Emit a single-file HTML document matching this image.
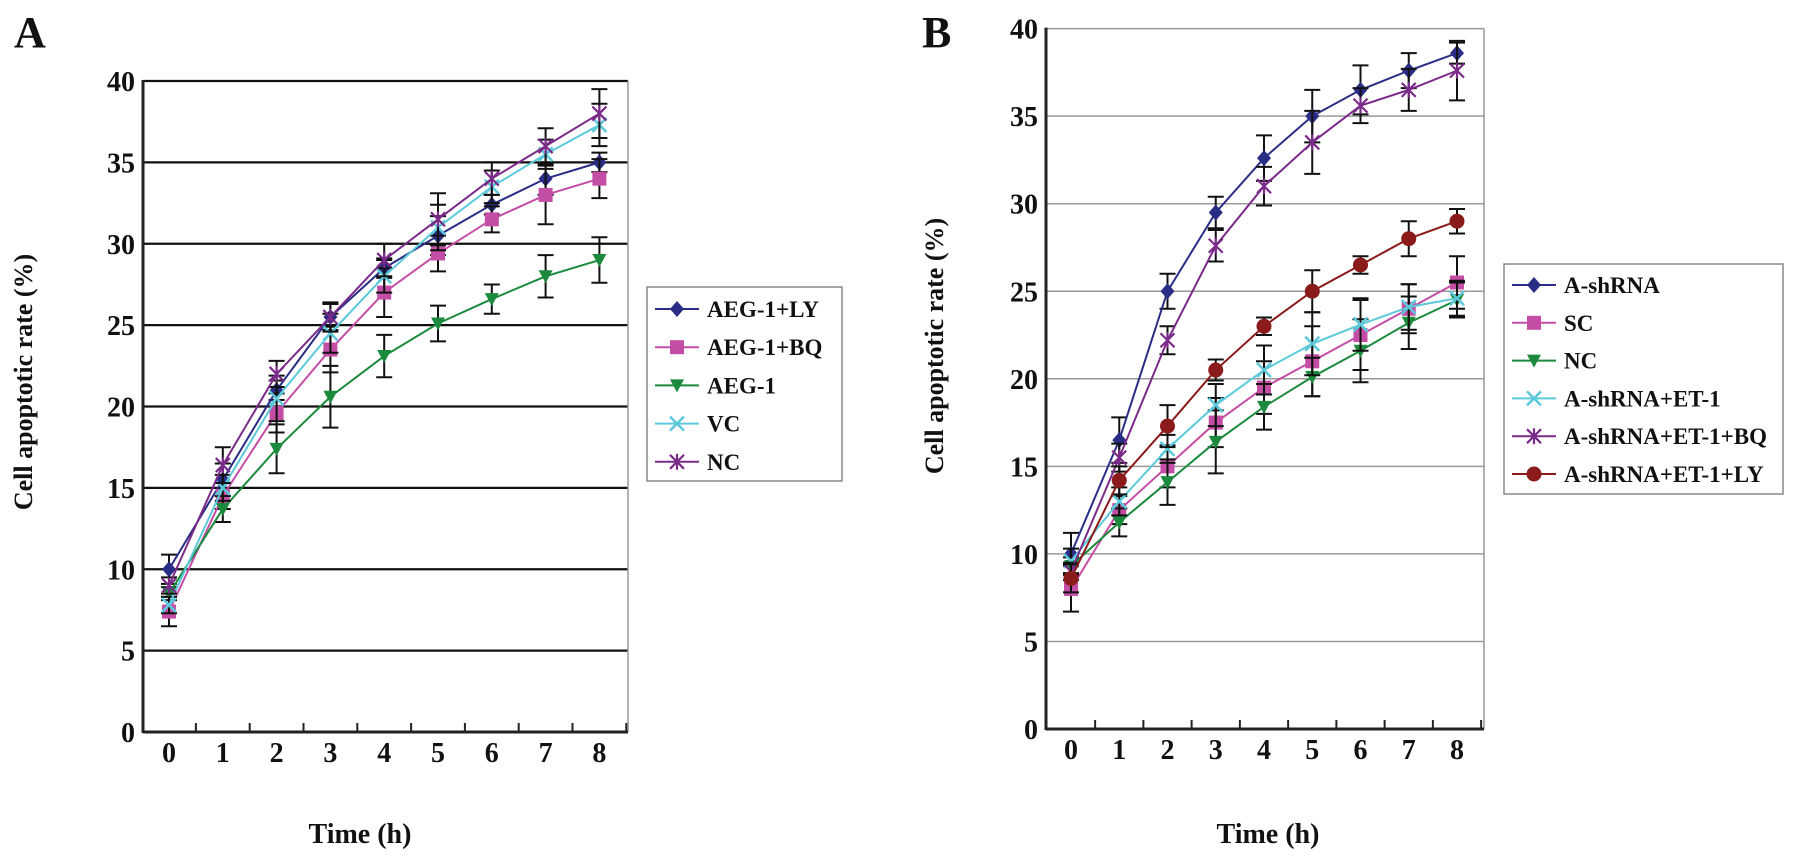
<!DOCTYPE html>
<html><head><meta charset="utf-8"><style>
html,body{margin:0;padding:0;background:#fff;}
svg text{font-family:"Liberation Serif",serif;font-weight:bold;fill:#111;}
</style></head><body>
<svg id="fig" width="1795" height="862" viewBox="0 0 1795 862" xmlns="http://www.w3.org/2000/svg"></svg>
<script>
const xCats = [0,1,2,3,4,5,6,7,8];
const yTicks = [0,5,10,15,20,25,30,35,40];
// Panel A
const aNames = ["AEG-1+LY","AEG-1+BQ","AEG-1","VC","NC"];
const aLY = [10,15.5,21,25.5,28.5,30.5,32.4,34,35];
const aBQ = [7.4,14.5,19.6,23.5,27,29.4,31.5,33,34];
const aAEG = [8.5,13.7,17.4,20.6,23.1,25.1,26.6,28,29];
const aVC = [7.8,15,20.5,24.5,28,31,33.5,35.5,37.3];
const aNC = [9,16.4,22,25.5,29,31.5,34,36,38];
const aLYerr = [0.9,1,0.6,0.8,0.6,1.2,0.6,1,0.6];
const aBQerr = [0.9,0.8,1.2,1.4,1.5,1.1,0.8,1.8,1.2];
const aAEGerr = [0.4,0.8,1.5,1.9,1.3,1.1,0.9,1.3,1.4];
const aVCerr = [0.5,0.8,1.4,1.2,1,1.4,1,0.9,1.3];
const aNCerr = [0.5,1.1,0.8,0.9,1,1.6,1,1.1,1.5];
// Panel B
const bNames = ["A-shRNA","SC","NC","A-shRNA+ET-1","A-shRNA+ET-1+BQ","A-shRNA+ET-1+LY"];
const bSh = [10,16.5,25,29.5,32.6,35,36.5,37.6,38.6];
const bSC = [8,12.5,15,17.5,19.5,21,22.5,24,25.5];
const bNC = [9.3,11.8,14.1,16.4,18.4,20.1,21.6,23.2,24.5];
const bET = [9.6,13,16,18.5,20.5,22,23.1,24.1,24.6];
const bBQ = [9,15.5,22.2,27.6,31,33.5,35.6,36.5,37.6];
const bLY = [8.6,14.2,17.3,20.5,23,25,26.5,28,29];
const bShErr = [1.2,1.3,1,0.9,1.3,1.5,1.4,1,0.6];
const bSCErr = [1.3,0.8,1.2,1.4,1.5,2,2,1.4,1.5];
const bNCErr = [0.5,0.8,1.3,1.8,1.3,1.1,1.8,1.5,1];
const bETErr = [0.7,0.8,0.8,1.2,1.4,1.8,1.5,1.3,1];
const bBQErr = [0.5,0.8,0.8,0.9,1.1,1.8,1,1.2,1.7];
const bLYErr = [0.8,0.8,1.2,0.6,0.5,1.2,0.5,1,0.7];

const NS="http://www.w3.org/2000/svg";
const svg=document.getElementById('fig');
function mk(tag,attrs,parent){const e=document.createElementNS(NS,tag);for(const k in attrs)e.setAttribute(k,attrs[k]);(parent||svg).appendChild(e);return e;}

function marker(g,type,x,y,c){
  let e;
  if(type==='diamond'){e=mk('polygon',{points:`${x},${y-8} ${x+7},${y} ${x},${y+8} ${x-7},${y}`,fill:c},g);}
  else if(type==='square'){e=mk('rect',{x:x-7,y:y-7,width:14,height:14,fill:c},g);}
  else if(type==='tri'){e=mk('polygon',{points:`${x-7},${y-6} ${x+7},${y-6} ${x},${y+7}`,fill:c},g);}
  else if(type==='x'){e=mk('path',{d:`M${x-7},${y-7}L${x+7},${y+7}M${x+7},${y-7}L${x-7},${y+7}`,stroke:c,'stroke-width':2.5},g);}
  else if(type==='star'){e=mk('path',{d:`M${x-7},${y-7}L${x+7},${y+7}M${x+7},${y-7}L${x-7},${y+7}M${x},${y-8}L${x},${y+8}`,stroke:c,'stroke-width':2.2},g);}
  else if(type==='circle'){e=mk('circle',{cx:x,cy:y,r:7.5,fill:c},g);}
  
  
  return e;
}

function panel(cfg){
  const P=mk('g',{});
  
  
  const xs=i=>cfg.x0+cfg.dx*i;
  const ys=v=>cfg.y0-(cfg.y0-cfg.y40)*v/40;
  // grid
  yTicks.forEach(t=>{
    if(t>0){const l=mk('line',{x1:cfg.left,x2:cfg.right,y1:ys(t),y2:ys(t),stroke:cfg.gridColor,'stroke-width':cfg.gridW},P);
      }
    const tx=mk('text',{x:cfg.left-8,y:ys(t)+10,'text-anchor':'end','font-size':28},P);
    tx.textContent=t;
    
  });
  const rb=mk('line',{x1:cfg.right,x2:cfg.right,y1:ys(40),y2:ys(0),stroke:'#999','stroke-width':1.5},P);
  
  const ya=mk('line',{x1:cfg.left,x2:cfg.left,y1:ys(40)-1,y2:ys(0)+1,stroke:'#222','stroke-width':3},P);
  
  const xa=mk('line',{x1:cfg.left,x2:cfg.right,y1:ys(0),y2:ys(0),stroke:'#222','stroke-width':3},P);
  
  xCats.forEach((c,i)=>{
    const tk=mk('line',{x1:xs(i)+cfg.dx/2,x2:xs(i)+cfg.dx/2,y1:ys(0),y2:ys(0)-9,stroke:'#222','stroke-width':2},P);
    
    const t=mk('text',{x:xs(i),y:ys(0)+30,'text-anchor':'middle','font-size':28},P);
    t.textContent=c;
  });
  cfg.series.forEach((s,si)=>{
    const g=mk('g',{},P);
    
    
    s.vals.forEach((v,i)=>{
      const e=s.err[i];
      const eb=mk('path',{d:`M${xs(i)},${ys(v+e)}L${xs(i)},${ys(v-e)}M${xs(i)-8},${ys(v+e)}L${xs(i)+8},${ys(v+e)}M${xs(i)-8},${ys(v-e)}L${xs(i)+8},${ys(v-e)}`,stroke:'#111','stroke-width':2,fill:'none'},g);
      
    });
    const ln=mk('polyline',{points:s.vals.map((v,i)=>xs(i)+','+ys(v)).join(' '),fill:'none',stroke:s.color,'stroke-width':2},g);
    
    s.vals.forEach((v,i)=>marker(g,s.m,xs(i),ys(v),s.color));
  });
  // titles
  const yt=mk('text',{x:0,y:0,'text-anchor':'middle','font-size':26,transform:`translate(${cfg.ytx},${cfg.yty}) rotate(-90)`},P);
  yt.textContent='Cell apoptotic rate (%)';
  const xt=mk('text',{x:cfg.xtx,y:843,'text-anchor':'middle','font-size':28},P);
  xt.textContent='Time (h)';
  const pl=mk('text',{x:cfg.lx,y:47,'font-size':44},P);
  pl.textContent=cfg.label;
  // legend
  const L=mk('g',{},P);
  
  mk('rect',{x:cfg.leg.x,y:cfg.leg.y,width:cfg.leg.w,height:cfg.leg.h,fill:'#fff',stroke:'#888','stroke-width':1.5},L);
  cfg.series.forEach((s,i)=>{
    const y=cfg.leg.ey0+cfg.leg.dy*i;
    const en=mk('g',{},L);
    
    mk('line',{x1:cfg.leg.lx,x2:cfg.leg.lx+44,y1:y,y2:y,stroke:s.color,'stroke-width':2},en);
    marker(en,s.m,cfg.leg.lx+22,y,s.color);
    const t=mk('text',{x:cfg.leg.lx+52,y:y+8,'font-size':23},en);
    t.textContent=s.name;
  });
}

panel({id:'panel-a',label:'A',lx:14,left:143,right:628,x0:169,dx:53.8,y0:732,y40:81,gridColor:'#111',gridW:2.2,
  ytx:32,yty:382,xtx:360,
  leg:{x:647,y:287,w:195,h:194,ey0:309,dy:38.2,lx:655},
  series:[
    {name:aNames[0],vals:aLY,err:aLYerr,color:'#2a2d86',m:'diamond'},
    {name:aNames[1],vals:aBQ,err:aBQerr,color:'#c44ea6',m:'square'},
    {name:aNames[2],vals:aAEG,err:aAEGerr,color:'#1b8a3c',m:'tri'},
    {name:aNames[3],vals:aVC,err:aVCerr,color:'#5cc9da',m:'x'},
    {name:aNames[4],vals:aNC,err:aNCerr,color:'#7a2a88',m:'star'}
  ]});
panel({id:'panel-b',label:'B',lx:922,left:1046,right:1484,x0:1071,dx:48.25,y0:729,y40:28.6,gridColor:'#999',gridW:1.5,
  ytx:943,yty:346,xtx:1268,
  leg:{x:1504,y:264,w:279,h:230,ey0:285,dy:37.8,lx:1512},
  series:[
    {name:bNames[0],vals:bSh,err:bShErr,color:'#2a2d86',m:'diamond'},
    {name:bNames[1],vals:bSC,err:bSCErr,color:'#c44ea6',m:'square'},
    {name:bNames[2],vals:bNC,err:bNCErr,color:'#1b8a3c',m:'tri'},
    {name:bNames[3],vals:bET,err:bETErr,color:'#5cc9da',m:'x'},
    {name:bNames[4],vals:bBQ,err:bBQErr,color:'#7a2a88',m:'star'},
    {name:bNames[5],vals:bLY,err:bLYErr,color:'#8b1a1a',m:'circle'}
  ]});
</script>
</body></html>
